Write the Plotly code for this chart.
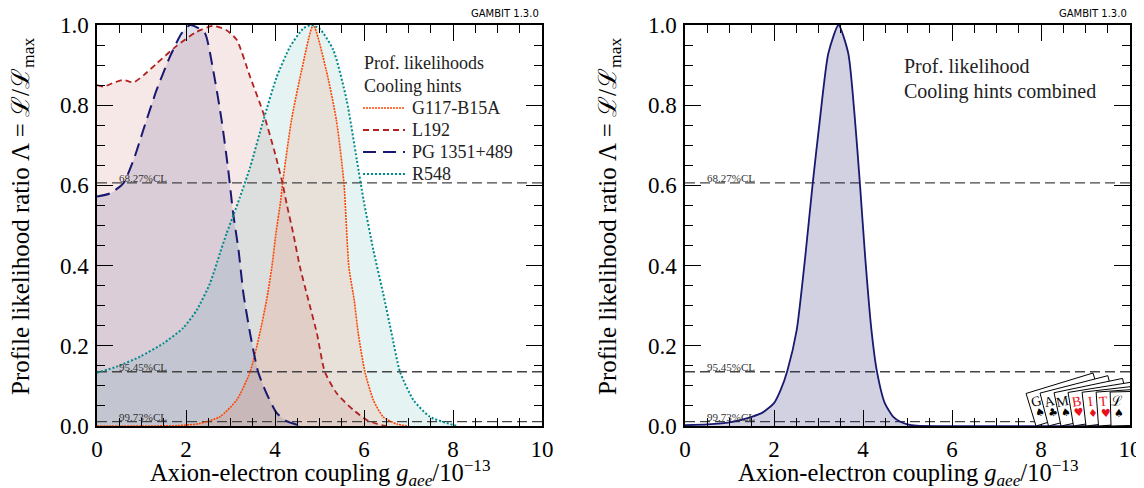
import numpy as np
import plotly.graph_objects as go

# ---------------- data ----------------
g117_x = [0.0, 1.0, 1.8, 2.3, 2.76, 3.14, 3.44, 3.66, 3.81, 3.93, 4.02, 4.13, 4.17, 4.37, 4.60, 4.86,
          5.15, 5.38, 5.55, 5.66, 5.78, 5.87, 6.02, 6.21, 6.43, 6.74, 7.0]
g117_y = [0.0, 0.0, 0.001, 0.006, 0.023, 0.065, 0.135, 0.232, 0.314, 0.397, 0.48, 0.564, 0.605, 0.763, 0.888, 1.0,
          0.888, 0.763, 0.605, 0.397, 0.314, 0.232, 0.135, 0.065, 0.023, 0.005, 0.0]

l192_x = [0.0, 0.15, 0.35, 0.59, 0.82, 1.05, 1.34, 1.79, 2.24, 2.61, 2.91, 3.14, 3.44, 3.74, 4.0, 4.17,
          4.27, 4.41, 4.56, 4.75, 4.94, 5.12, 5.39, 5.76, 6.06, 6.3, 6.5]
l192_y = [0.85, 0.846, 0.855, 0.863, 0.857, 0.875, 0.904, 0.948, 0.983, 0.998, 0.987, 0.963, 0.871, 0.780, 0.68, 0.605,
          0.55, 0.48, 0.397, 0.314, 0.232, 0.135, 0.081, 0.04, 0.015, 0.005, 0.0]

pg_x = [0.0, 0.29, 0.59, 0.82, 1.04, 1.34, 1.64, 1.90, 2.09, 2.28, 2.43, 2.61, 2.80, 2.95, 3.06, 3.18,
        3.29, 3.44, 3.62, 3.81, 4.04, 4.26, 4.6]
pg_y = [0.572, 0.58, 0.605, 0.663, 0.738, 0.838, 0.921, 0.979, 1.0, 0.992, 0.979, 0.888, 0.763, 0.638, 0.53, 0.439,
        0.331, 0.231, 0.135, 0.081, 0.032, 0.012, 0.0]

r548_x = [0.0, 0.44, 0.97, 1.49, 1.94, 2.24, 2.54, 2.76, 2.91, 3.08, 3.21, 3.44, 3.74, 4.04, 4.34, 4.64, 4.82,
          5.01, 5.31, 5.61, 5.84, 5.99, 6.21, 6.43, 6.62, 6.81, 7.11, 7.48, 7.93, 8.1]
r548_y = [0.133, 0.148, 0.173, 0.206, 0.245, 0.289, 0.356, 0.43, 0.48, 0.53, 0.57, 0.645, 0.763, 0.871, 0.946, 0.992, 1.0,
          0.99, 0.938, 0.813, 0.663, 0.564, 0.439, 0.331, 0.231, 0.135, 0.065, 0.023, 0.005, 0.0]

comb_x = [0.0, 0.5, 1.0, 1.5, 1.75, 2.0, 2.15, 2.3, 2.51, 2.7, 2.87, 3.03, 3.22, 3.45, 3.67, 3.82, 3.93, 4.05, 4.19,
          4.31, 4.49, 4.68, 4.85, 5.0, 5.2, 10.0]
comb_y = [0.002, 0.004, 0.009, 0.023, 0.034, 0.057, 0.09, 0.138, 0.239, 0.42, 0.605, 0.763, 0.929, 1.0, 0.929, 0.763,
          0.605, 0.42, 0.239, 0.138, 0.057, 0.023, 0.01, 0.004, 0.001, 0.0]

cl_values = [0.6065, 0.1353, 0.0111]
cl_labels = ["68.27%CL", "95.45%CL", "99.73%CL"]

x_ticks = [0, 2, 4, 6, 8, 10]
y_ticks = [0.0, 0.2, 0.4, 0.6, 0.8, 1.0]

legend_title = ["Prof. likelihoods", "Cooling hints"]
card_letters = ["G", "A", "M", "B", "I", "T", "ℒ"]
card_suits = ["♠", "♣", "♠", "♥", "♦", "♥", "♠"]
card_red = [False, False, False, True, True, True, False]

# ---------------- layout helpers ----------------
W, H = 1144, 488
OFF = 8  # page body margin
LX0, LX1 = 97, 542
RX0, RX1 = 685, 1130
YT, YB = 25, 426
SERIF = "Liberation Serif, Times New Roman, serif"


def pxx(p):
    return (p - OFF) / W


def pxy(p):
    return 1 - (p - OFF) / H


fig = go.Figure()

series = [
    ("G117-B15A", g117_x, g117_y, "#ff4500", "2px,1px", 1.6, "rgba(255,69,0,0.10)"),
    ("L192", l192_x, l192_y, "#b22222", "6px,4px", 1.8, "rgba(178,34,34,0.10)"),
    ("PG 1351+489", pg_x, pg_y, "#191970", "13px,7px", 2.0, "rgba(25,25,112,0.13)"),
    ("R548", r548_x, r548_y, "#008b8b", "2px,2px", 2.0, "rgba(0,139,139,0.10)"),
]

# fills
for name, xs, ys, col, dash, w, fc in [series[1], series[2], series[3], series[0]]:
    fig.add_trace(go.Scatter(x=xs, y=ys, mode="lines", fill="tozeroy", fillcolor=fc,
                             line=dict(width=0, shape="spline", smoothing=0.6),
                             showlegend=False, hoverinfo="skip", xaxis="x", yaxis="y"))
# CL lines (both panels)
for v in cl_values:
    for xa_, ya_ in (("x", "y"), ("x2", "y2")):
        fig.add_trace(go.Scatter(x=[0, 10], y=[v, v], mode="lines",
                                 line=dict(color="#444444", width=1.3, dash="10px,5px"),
                                 showlegend=False, hoverinfo="skip", xaxis=xa_, yaxis=ya_))
# lines
for name, xs, ys, col, dash, w, fc in series:
    fig.add_trace(go.Scatter(x=xs, y=ys, mode="lines", name=name, showlegend=False,
                             line=dict(color=col, width=w, dash=dash, shape="spline", smoothing=0.6),
                             xaxis="x", yaxis="y"))

# combined
fig.add_trace(go.Scatter(x=comb_x, y=comb_y, mode="lines", fill="tozeroy", name="Combined",
                         fillcolor="rgba(25,25,112,0.2)",
                         line=dict(color="#191970", width=1.8, shape="spline", smoothing=0.6),
                         showlegend=False, xaxis="x2", yaxis="y2"))

axis_common = dict(showline=True, linecolor="black", linewidth=1.5, mirror="ticks",
                   ticks="inside", ticklen=16, tickwidth=1.3, tickcolor="black",
                   showgrid=False, zeroline=False, automargin=False,
                   tickfont=dict(family=SERIF, size=23, color="black"))

xa = dict(axis_common, range=[0, 10], tickvals=x_ticks, ticklabelstandoff=2,
          minor=dict(ticks="inside", ticklen=8, dtick=0.5, tickcolor="black", tickwidth=1, showgrid=False))
ya = dict(axis_common, range=[0, 1], tickvals=y_ticks, tickformat=".1f", ticklabelstandoff=2,
          minor=dict(ticks="inside", ticklen=8, dtick=0.05, tickcolor="black", tickwidth=1, showgrid=False))

fig.update_layout(
    width=W, height=H, margin=dict(l=0, r=0, t=0, b=0, pad=0, autoexpand=False),
    paper_bgcolor="white", plot_bgcolor="white", showlegend=False,
    xaxis=dict(xa, domain=[pxx(LX0), pxx(LX1)], anchor="y"),
    yaxis=dict(ya, domain=[pxy(YB), pxy(YT)], anchor="x"),
    xaxis2=dict(xa, domain=[pxx(RX0), pxx(RX1)], anchor="y2"),
    yaxis2=dict(ya, domain=[pxy(YB), pxy(YT)], anchor="x2"),
)

ann = []
shapes = []


def text(xp, yp, s, size, family=SERIF, color="black", xanchor="center", angle=0):
    ann.append(dict(x=pxx(xp), y=pxy(yp), xref="paper", yref="paper", text=s,
                    showarrow=False, xanchor=xanchor, yanchor="middle", textangle=angle,
                    font=dict(family=family, size=size, color=color)))


# axis titles
for x0, x1, xl in ((LX0, LX1, 22), (RX0, RX1, 609)):
    text((x0 + x1) / 2, 473, "Axion-electron coupling <i>g<sub>aee</sub></i>/10<sup>−13</sup>", 24.5)
    text(xl, 217, "Profile likelihood ratio Λ = ℒ/ℒ<sub>max</sub>", 25, angle=-90)
    ann.append(dict(x=pxx(x1 - 1), y=pxy(21), xref="paper", yref="paper", xanchor="right",
                    yanchor="bottom", text="GAMBIT 1.3.0", showarrow=False,
                    font=dict(family="DejaVu Sans", size=10, color="black")))
# CL labels
for v, lab in zip(cl_values, cl_labels):
    for xr, yr in (("x", "y"), ("x2", "y2")):
        ann.append(dict(x=0.45, y=v, xref=xr, yref=yr, xanchor="left", yanchor="bottom",
                        text=lab, showarrow=False, yshift=-3,
                        font=dict(family=SERIF, size=11, color="#333")))

# legend (left panel)
text(362, 63, legend_title[0], 18, color="#222", xanchor="left")
text(362, 86, legend_title[1], 18, color="#222", xanchor="left")
for k, (name, xs, ys, col, dash, w, fc) in enumerate(series):
    yy = 108 + 22 * k
    shapes.append(dict(type="line", xref="paper", yref="paper", x0=pxx(363), x1=pxx(405),
                       y0=pxy(yy), y1=pxy(yy), line=dict(color=col, width=w, dash=dash)))
    text(410, yy, name, 18, color="#222", xanchor="left")

# right panel label
text(902, 66, "Prof. likelihood", 20, color="#222", xanchor="left")
text(902, 92, "Cooling hints combined", 20, color="#222", xanchor="left")


# GAMBIT card logo (decoration) in right panel data coordinates
def to_data(px_, py_):
    return (px_ - RX0) / (RX1 - RX0) * 10, (YB - py_) / (YB - YT)


hcard, lcard = 34, 70
for i in range(7):
    lean = np.radians(17 - 2.6 * i)
    bx, by = 1036 + 12.5 * i, 426
    u = (np.cos(lean), -np.sin(lean))
    v = (-np.sin(lean), -np.cos(lean))
    corners = [(bx, by), (bx + hcard * v[0], by + hcard * v[1]),
               (bx + hcard * v[0] + lcard * u[0], by + hcard * v[1] + lcard * u[1]),
               (bx + lcard * u[0], by + lcard * u[1])]
    pts = [to_data(*c) for c in corners]
    path = "M " + " L ".join(f"{a:.4f},{b:.4f}" for a, b in pts) + " Z"
    shapes.append(dict(type="path", path=path, xref="x2", yref="y2", fillcolor="white",
                       line=dict(color="black", width=1), layer="above"))
    lx, ly = bx + 24 * v[0] + 7 * u[0], by + 24 * v[1] + 7 * u[1]
    sx, sy = bx + 12 * v[0] + 8 * u[0], by + 12 * v[1] + 8 * u[1]
    col = "#e8101a" if card_red[i] else "black"
    text(lx, ly, card_letters[i], 14, color=col, angle=-np.degrees(lean))
    text(sx, sy, card_suits[i], 11, family="DejaVu Sans", color=col, angle=-np.degrees(lean))

fig.update_layout(annotations=ann, shapes=shapes)
fig.write_html("out.html")
